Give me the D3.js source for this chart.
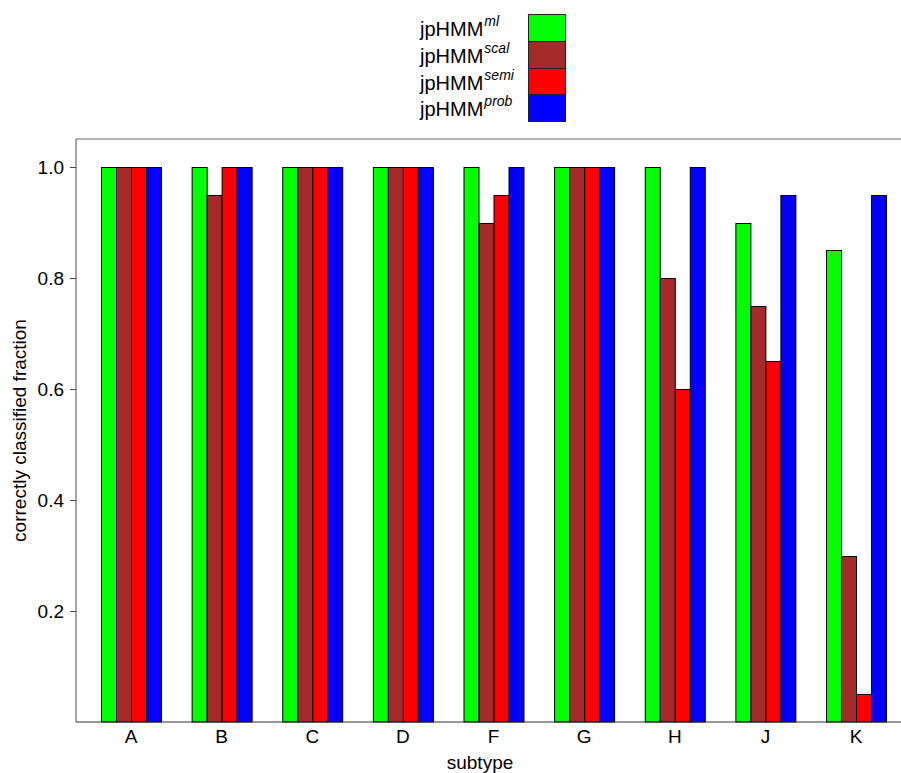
<!DOCTYPE html>
<html>
<head>
<meta charset="utf-8">
<script src="https://cdn.jsdelivr.net/npm/d3@7/dist/d3.min.js"></script>
<style>
body { margin: 0; background: #fff; }
text { font-family: "Liberation Sans", Arial, sans-serif; }
</style>
</head>
<body>
<svg id="chart" width="901" height="773"></svg>
<script>
const categories = ["A", "B", "C", "D", "F", "G", "H", "J", "K"];
const seriesNames = ["ml", "scal", "semi", "prob"];
const seriesColors = ["#00ff00", "#a52a2a", "#ff0000", "#0000ff"];
const ml   = [1.00, 1.00, 1.00, 1.00, 1.00, 1.00, 1.00, 0.90, 0.85];
const scal = [1.00, 0.95, 1.00, 1.00, 0.90, 1.00, 0.80, 0.75, 0.30];
const semi = [1.00, 1.00, 1.00, 1.00, 0.95, 1.00, 0.60, 0.65, 0.05];
const prob = [1.00, 1.00, 1.00, 1.00, 1.00, 1.00, 1.00, 0.95, 0.95];
const yTicks = [0.2, 0.4, 0.6, 0.8, 1.0];
const seriesValues = [ml, scal, semi, prob];

const svg = d3.select("#chart");
const pLeft = 76, pRight = 901, pTop = 139, pBottom = 722;

const x = d3.scaleBand().domain(categories).range([101, 886]).paddingInner(0.338).paddingOuter(0);
const xs = d3.scaleBand().domain(seriesNames).range([0, x.bandwidth()]).padding(0);
const y = d3.scaleLinear().domain([0, 1.0505]).range([pBottom, pTop]);

// bars
const groups = svg.append("g").selectAll("g").data(categories).join("g")
  .attr("transform", d => `translate(${x(d)},0)`);
groups.selectAll("rect")
  .data((c, i) => seriesNames.map((s, j) => ({ s, j, v: seriesValues[j][i] })))
  .join("rect")
  .attr("x", d => Math.round(xs(d.s)) + 0.5)
  .attr("y", d => Math.round(y(d.v)) + 0.5)
  .attr("width", d => Math.round(xs.bandwidth()))
  .attr("height", d => pBottom - Math.round(y(d.v)) - 0.5)
  .attr("fill", d => seriesColors[d.j])
  .attr("stroke", "#000")
  .attr("stroke-width", 1);

// frame lines
const frame = svg.append("g").attr("stroke", "#666").attr("stroke-width", 1.2).attr("fill", "none");
frame.append("line").attr("x1", pLeft).attr("x2", pLeft).attr("y1", pTop).attr("y2", pBottom);
frame.append("line").attr("x1", pLeft).attr("x2", pRight).attr("y1", pTop).attr("y2", pTop);
frame.append("line").attr("x1", pLeft).attr("x2", pRight).attr("y1", pBottom).attr("y2", pBottom).attr("stroke", "#333");

// y axis
const yAxis = d3.axisLeft(y).tickValues(yTicks).tickFormat(d3.format(".1f")).tickSizeOuter(0).tickSizeInner(6).tickPadding(6);
const ya = svg.append("g").attr("transform", `translate(${pLeft},0)`).call(yAxis);
ya.select(".domain").remove();
ya.selectAll(".tick line").attr("stroke", "#444");
ya.selectAll(".tick text").attr("font-size", 19).attr("fill", "#000").style("font-family", "Liberation Sans, Arial, sans-serif");

// x axis
const xAxis = d3.axisBottom(x).tickSize(0).tickPadding(8);
const xa = svg.append("g").attr("transform", `translate(0,${pBottom})`).call(xAxis);
xa.select(".domain").remove();
xa.selectAll(".tick text").attr("font-size", 19).attr("fill", "#000").style("font-family", "Liberation Sans, Arial, sans-serif");

// axis titles
svg.append("text").attr("x", 480).attr("y", 769).attr("text-anchor", "middle").attr("font-size", 19).text("subtype");
svg.append("text").attr("transform", `translate(26,${(pTop + pBottom) / 2}) rotate(-90)`).attr("text-anchor", "middle").attr("font-size", 19).text("correctly classified fraction");

// legend
const legY = d3.scaleBand().domain(seriesNames).range([14, 121]);
const leg = svg.append("g");
seriesNames.forEach((s, j) => {
  leg.append("rect").attr("x", 528.5).attr("y", Math.round(legY(s)) + 0.5)
    .attr("width", 37).attr("height", Math.round(legY.bandwidth()))
    .attr("fill", seriesColors[j]).attr("stroke", "#222").attr("stroke-width", 1);
  const t = leg.append("text").attr("x", 420).attr("y", Math.round(legY(s)) + 22).attr("font-size", 20);
  t.append("tspan").text("jpHMM");
  t.append("tspan").attr("dy", -10).attr("dx", 1).attr("font-size", 14).attr("font-style", "italic").text(s);
});
</script>
</body>
</html>
